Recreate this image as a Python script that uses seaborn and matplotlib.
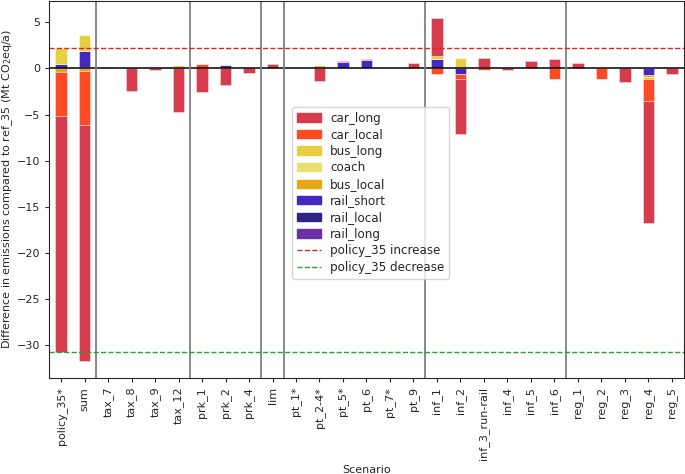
import numpy as np
import pandas as pd
import seaborn as sns
import matplotlib
matplotlib.use('Agg')
import matplotlib.pyplot as plt

# ############### Data ###############
scenarios = ['policy_35*', 'sum', 'tax_7', 'tax_8', 'tax_9', 'tax_12', 'prk_1', 'prk_2', 'prk_4', 'lim',
             'pt_1*', 'pt_2-4*', 'pt_5*', 'pt_6', 'pt_7*', 'pt_9', 'inf_1', 'inf_2', 'inf_3_run-rail',
             'inf_4', 'inf_5', 'inf_6', 'reg_1', 'reg_2', 'reg_3', 'reg_4', 'reg_5']
# group separators (index of last scenario in a group)
group_ends = [1, 5, 8, 9, 15, 21]

#                   pol    sum   t7   t8    t9    t12   p1    p2    p4    lim  pt1  pt24  pt5  pt6  pt7  pt9   i1    i2    i3    i4    i5   i6    r1   r2    r3    r4     r5
car_long   = [-25.5, -25.5, 0.2, -2.44, -0.15, -4.74, -2.6, -1.83, -0.5, 0.4, 0.0, -1.33, 0.1, 0.15, 0.0, 0.6, 4.06, -6.05, 0.9, -0.15, 0.79, 0.97, 0.57, 0.0, -1.47, -13.15, -0.61]
car_local  = [-4.85, -5.89, 0.0, 0.0, 0.0, 0.0, 0.5, 0.0, 0.0, 0.05, 0.0, 0.05, 0.05, 0.05, 0.0, 0.0, -0.6, -0.53, -0.18, 0.0, 0.0, -1.15, 0.0, -1.18, 0.0, -2.45, 0.0]
bus_long   = [1.7, 1.7, 0.0, 0.1, 0.0, 0.15, 0.0, 0.1, 0.0, 0.0, 0.0, 0.3, 0.0, 0.0, 0.0, 0.0, 0.3, 1.15, 0.0, 0.0, 0.0, 0.0, 0.0, 0.05, 0.0, -0.15, 0.0]
coach      = [0.0, 0.0, 0.0, 0.0, 0.0, 0.0, 0.0, 0.0, 0.0, 0.0, 0.0, 0.0, 0.0, 0.0, 0.0, 0.0, 0.06, 0.0, 0.0, 0.0, 0.0, 0.0, 0.0, 0.0, 0.0, 0.0, 0.0]
bus_local  = [-0.35, -0.25, 0.0, 0.0, 0.0, 0.0, 0.0, 0.0, 0.1, 0.0, 0.0, 0.05, 0.0, 0.0, 0.0, 0.0, 0.0, 0.0, 0.0, 0.0, 0.0, 0.0, 0.0, 0.0, 0.0, -0.23, 0.0]
rail_short = [0.5, 1.83, 0.0, 0.0, 0.0, 0.2, 0.0, 0.35, 0.0, 0.0, 0.0, 0.0, 0.65, 0.86, 0.0, 0.0, 1.0, -0.57, 0.2, 0.0, 0.0, 0.0, 0.0, 0.0, 0.0, -0.72, 0.0]
rail_local = [0.0] * 27
rail_long  = [0.0, 0.1, 0.0, 0.0, 0.0, 0.0, 0.0, 0.0, 0.0, 0.0, 0.0, 0.0, 0.0, 0.0, 0.0, 0.0, 0.0, 0.0, 0.0, 0.0, 0.0, 0.0, 0.0, 0.0, 0.0, 0.0, 0.0]

policy_increase = 2.2
policy_decrease = -30.7

modes = ['car_long', 'car_local', 'bus_long', 'coach', 'bus_local', 'rail_short', 'rail_local', 'rail_long']
values = [car_long, car_local, bus_long, coach, bus_local, rail_short, rail_local, rail_long]
colors = ['#d73c4c', '#ff4a22', '#e6d040', '#e8e070', '#e6a815', '#4428bf', '#2c2488', '#6a30a8']

# ############### Plot ###############
sns.set_style('ticks')
plt.rcParams['font.size'] = 8
plt.rcParams['xtick.major.size'] = 3
plt.rcParams['ytick.major.size'] = 3
fig, ax = plt.subplots(figsize=(6.85, 4.74), dpi=100)

df = pd.DataFrame(dict(zip(modes, values)), index=scenarios)
pos_bottom = np.zeros(len(scenarios))
neg_bottom = np.zeros(len(scenarios))
handles = []
# stack from rail (closest to zero) to car_long (furthest)
for mode, col in zip(modes[::-1], colors[::-1]):
    v = df[mode].values
    pos = np.clip(v, 0, None)
    neg = np.clip(v, None, 0)
    sns.barplot(x=scenarios, y=pos, bottom=pos_bottom, color=col, width=0.5, ax=ax,
                edgecolor=(1, 1, 1, 0.45), linewidth=0.6, saturation=1)
    sns.barplot(x=scenarios, y=neg, bottom=neg_bottom, color=col, width=0.5, ax=ax,
                edgecolor=(1, 1, 1, 0.45), linewidth=0.6, saturation=1)
    pos_bottom += pos
    neg_bottom += neg
    handles.append(plt.Rectangle((0, 0), 1, 1, color=col, label=mode))

ax.axhline(0, color='black', lw=1.1)
for g in group_ends:
    ax.axvline(g + 0.5, color='grey', lw=1.3)
l1 = ax.axhline(policy_increase, color='tab:red', ls='--', lw=1, label='policy_35 increase')
l2 = ax.axhline(policy_decrease, color='tab:green', ls='--', lw=1, label='policy_35 decrease')

ax.legend(handles=handles[::-1] + [l1, l2], loc='upper left', bbox_to_anchor=(0.373, 0.735),
          frameon=True, framealpha=0.8, fontsize=8.6, labelspacing=0.3)
ax.set_xlim(-0.5, len(scenarios) - 0.5)
ax.set_ylim(-33.5, 7.3)
ax.tick_params(axis='x', rotation=90)
ax.set_xlabel('Scenario')
ax.set_ylabel('Difference in emissions compared to ref_35 (Mt CO$_2$eq/a)', labelpad=1)
plt.subplots_adjust(left=0.072, right=0.998, top=0.998, bottom=0.203)
plt.savefig('out.png')
